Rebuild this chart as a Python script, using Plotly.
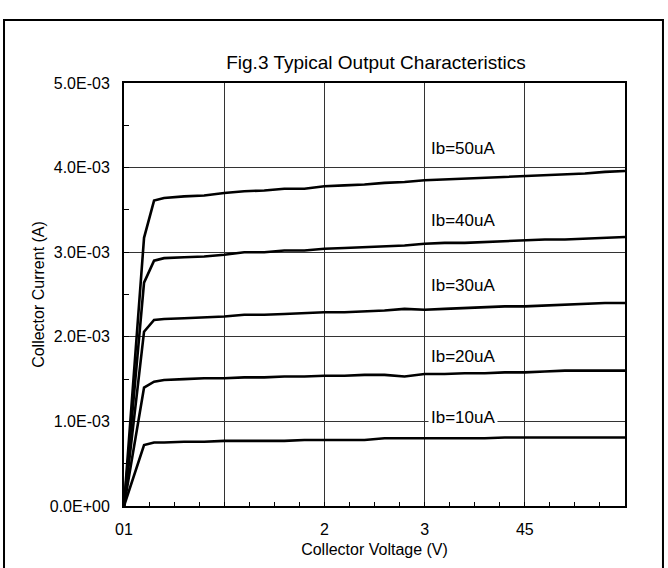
import plotly.graph_objects as go

# ---- data ----
voltage = [0, 0.2, 0.3, 0.4, 0.6, 0.8, 1.0, 1.2, 1.4, 1.6, 1.8, 2.0, 2.2, 2.4,
           2.6, 2.8, 3.0, 3.2, 3.4, 3.6, 3.8, 4.0, 4.2, 4.4, 4.6, 4.8, 5.0]

ib50_mA = [0, 3.17, 3.61, 3.64, 3.66, 3.67, 3.70, 3.72, 3.73, 3.75, 3.75, 3.78, 3.79, 3.80,
           3.82, 3.83, 3.85, 3.86, 3.87, 3.88, 3.89, 3.90, 3.91, 3.92, 3.93, 3.95, 3.96]
ib40_mA = [0, 2.64, 2.90, 2.93, 2.94, 2.95, 2.97, 3.00, 3.00, 3.02, 3.02, 3.04, 3.05, 3.06,
           3.07, 3.08, 3.10, 3.11, 3.11, 3.12, 3.13, 3.14, 3.15, 3.15, 3.16, 3.17, 3.18]
ib30_mA = [0, 2.06, 2.20, 2.21, 2.22, 2.23, 2.24, 2.26, 2.26, 2.27, 2.28, 2.29, 2.29, 2.30,
           2.31, 2.33, 2.32, 2.33, 2.34, 2.35, 2.36, 2.36, 2.37, 2.38, 2.39, 2.40, 2.40]
ib20_mA = [0, 1.40, 1.47, 1.49, 1.50, 1.51, 1.51, 1.52, 1.52, 1.53, 1.53, 1.54, 1.54, 1.55,
           1.55, 1.53, 1.56, 1.56, 1.57, 1.57, 1.58, 1.58, 1.59, 1.60, 1.60, 1.60, 1.60]
ib10_mA = [0, 0.72, 0.75, 0.75, 0.76, 0.76, 0.77, 0.77, 0.77, 0.77, 0.78, 0.78, 0.78, 0.78,
           0.80, 0.80, 0.80, 0.80, 0.80, 0.80, 0.81, 0.81, 0.81, 0.81, 0.81, 0.81, 0.81]

series_names = ["Ib=50uA", "Ib=40uA", "Ib=30uA", "Ib=20uA", "Ib=10uA"]
series_values = [ib50_mA, ib40_mA, ib30_mA, ib20_mA, ib10_mA]

# label anchor points (V, mA)
label_x = [3.03, 3.03, 3.03, 3.03, 3.03]
label_y_mA = [4.22, 3.38, 2.61, 1.77, 1.05]

x_tickvals = [0, 1, 2, 3, 4, 5]
x_ticktext = ["01", "", "2", "3", "45", ""]
y_tickvals = [0, 1e-3, 2e-3, 3e-3, 4e-3, 5e-3]
y_ticktext = ["0.0E+00", "1.0E-03", "2.0E-03", "3.0E-03", "4.0E-03", "5.0E-03"]

FONT = "Liberation Sans, Arial, sans-serif"
W, H = 668, 568

fig = go.Figure()
for name, vals in zip(series_names, series_values):
    fig.add_trace(go.Scatter(
        x=voltage, y=[v * 1e-3 for v in vals], mode="lines", name=name,
        line=dict(color="black", width=2.6), showlegend=False))

for name, lx, ly in zip(series_names, label_x, label_y_mA):
    fig.add_annotation(x=lx, y=ly * 1e-3, text=name, showarrow=False,
                       xanchor="left", yanchor="middle",
                       font=dict(family=FONT, size=17, color="black"),
                       bgcolor="white", borderpad=2)

fig.update_layout(
    width=W, height=H,
    margin=dict(l=124, r=43, t=83, b=62),
    paper_bgcolor="white", plot_bgcolor="white",
    font=dict(family=FONT, size=16, color="black"),
    title=dict(text="Fig.3 Typical Output Characteristics", x=376 / W, xanchor="center",
               y=1 - 62 / H, yanchor="middle",
               font=dict(family=FONT, size=19, color="black")),
    shapes=[dict(type="rect", xref="paper", yref="paper",
                 x0=-0.2395, x1=1.0758, y0=-0.163, y1=1.149,
                 line=dict(color="black", width=2), fillcolor="rgba(0,0,0,0)",
                 layer="below")],
)

fig.update_xaxes(
    range=[0, 5], tickmode="array", tickvals=x_tickvals, ticktext=x_ticktext,
    showgrid=True, gridcolor="#333333", gridwidth=1,
    showline=True, linecolor="black", linewidth=2, mirror=True,
    ticks="inside", ticklen=0, tickcolor="black", ticklabelstandoff=8,
    minor=dict(dtick=0.25, ticks="inside", ticklen=4, tickcolor="black", showgrid=False),
    zeroline=False, tickfont=dict(size=16),
    title=dict(text="Collector Voltage (V)", font=dict(size=16), standoff=7),
)
fig.update_yaxes(
    range=[0, 5e-3], tickmode="array", tickvals=y_tickvals, ticktext=y_ticktext,
    showgrid=True, gridcolor="#333333", gridwidth=1,
    showline=True, linecolor="black", linewidth=2, mirror=True,
    ticks="inside", ticklen=5, tickcolor="black", ticklabelstandoff=9,
    minor=dict(dtick=0.5e-3, ticks="inside", ticklen=5, tickcolor="black", showgrid=False),
    zeroline=False, tickfont=dict(size=16),
    title=dict(text="Collector Current (A)", font=dict(size=16), standoff=1),
)

# remove the browser's default 8px body margin so the figure fills the window exactly
fig.write_html("out.html", config={"displayModeBar": False},
               post_script="document.body.style.margin='0';")
